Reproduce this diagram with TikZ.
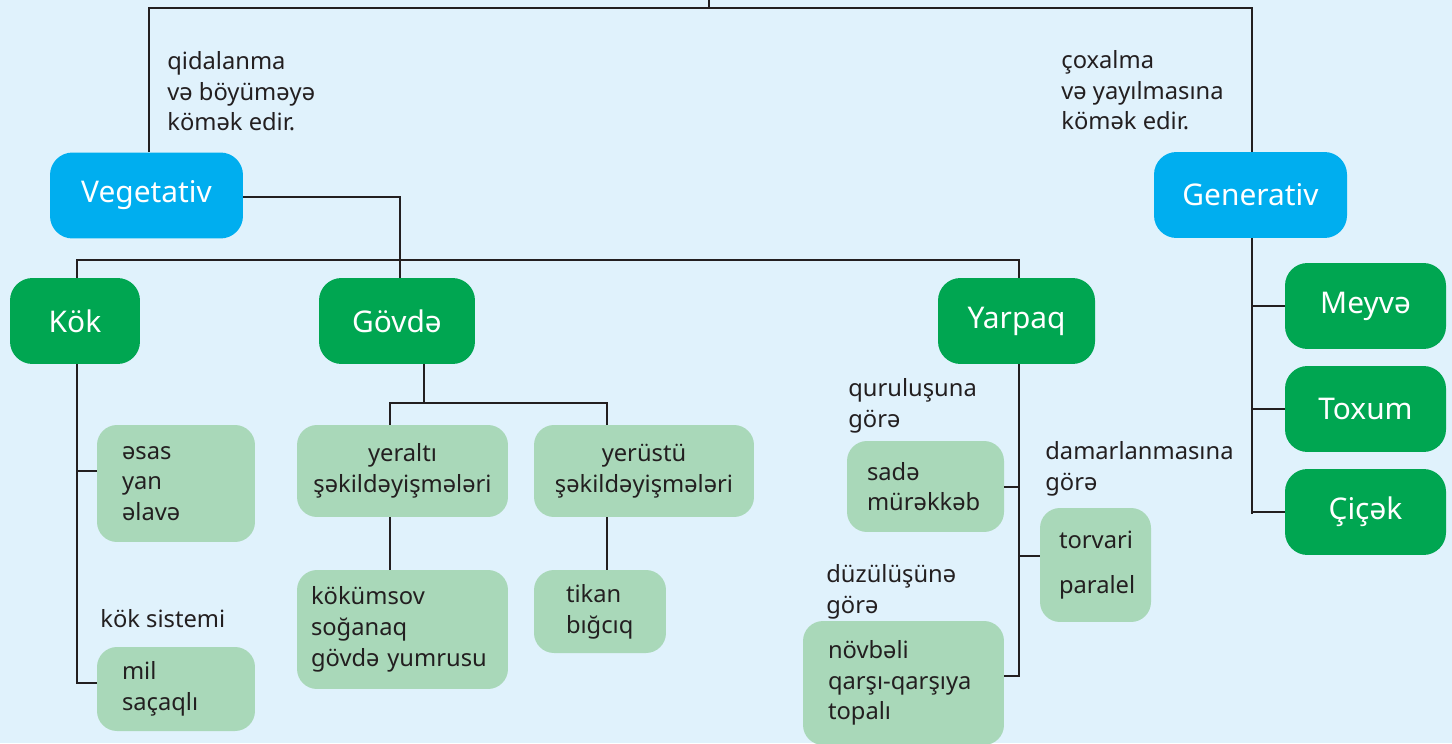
\documentclass[tikz,border=0pt]{standalone}
\usepackage{fontspec}
\setmainfont{Noto Sans}
\usepackage{tikz}
\usetikzlibrary{positioning,calc}
\usepackage{xcolor}

\definecolor{pagebg}{HTML}{E0F2FC}
\definecolor{vegblue}{HTML}{00AEEF}
\definecolor{partgreen}{HTML}{00A651}
\definecolor{notegreen}{HTML}{A9D8B9}
\definecolor{inkgray}{HTML}{231F20}

\newcommand{\notefont}{\fontsize{13.5pt}{17.5pt}\selectfont}
\newcommand{\boxfont}{\fontsize{17pt}{20pt}\selectfont}

\tikzset{
  mainbox/.style={fill=vegblue, text=white, rounded corners=0.45cm,
    minimum width=3.86cm, minimum height=1.72cm, font=\boxfont},
  partbox/.style={fill=partgreen, text=white, rounded corners=0.45cm,
    minimum height=1.72cm, font=\boxfont},
  notebox/.style={fill=notegreen, text=inkgray, rounded corners=0.4cm,
    font=\notefont},
  % anchored at the baseline of the last line
  note/.style={text=inkgray, align=left, inner sep=0pt, anchor=base west, font=\notefont},
  link/.style={draw=inkgray, line width=1.6pt},
  thinlink/.style={draw=inkgray, line width=1.2pt},
}

\begin{document}
\begin{tikzpicture}[x=0.02cm,y=-0.02cm]
\fill[pagebg] (0,0) rectangle (1452,743);
\useasboundingbox (0,0) rectangle (1452,743);

% top level
\node[mainbox] (veg) at (146.5,195.5) {Vegetativ};
\node[mainbox] (gen) at (1250.5,195) {Generativ};

\node[note] (vegnote) at (167,131) {qidalanma\\və böyüməyə\\kömək edir.};
\node[note] (gennote) at (1061,130) {çoxalma\\və yayılmasına\\kömək edir.};

% vegetative organs
\node[partbox, minimum width=2.6cm] (kok) at (75,321) {Kök};
\node[partbox, minimum width=3.12cm] (govde) at (397,321) {Gövdə};
\node[partbox, minimum width=3.14cm] (yarpaq) at (1016.5,321) {Yarpaq};

% generative organs
\node[partbox, minimum width=3.22cm] (meyve) at (1365.5,306) {Meyvə};
\node[partbox, minimum width=3.22cm] (toxum) at (1365.5,409) {Toxum};
\node[partbox, minimum width=3.22cm] (cicek) at (1365.5,512) {Çiçək};

% root
\node[notebox, minimum width=3.16cm, minimum height=2.34cm, inner xsep=0.5cm,
  text width=2.16cm, align=left] (esas) at (176,483.5) {əsas\\yan\\əlavə};
\node[note] (koksis) at (100,627) {kök sistemi};
\node[notebox, minimum width=3.16cm, minimum height=1.68cm, inner xsep=0.5cm,
  text width=2.16cm, align=left] (mil) at (176,689) {mil\\saçaqlı};

% stem
\node[notebox, minimum width=4.22cm, minimum height=1.84cm, text width=4cm,
  inner xsep=0.11cm, align=center] (yeralti) at (402.5,471) {yeraltı\\şəkildəyişmələri};
\node[notebox, minimum width=4.4cm, minimum height=1.84cm, text width=4.1cm,
  inner xsep=0.15cm, align=center] (yerustu) at (644,471) {yerüstü\\şəkildəyişmələri};
\node[notebox, minimum width=4.22cm, minimum height=2.38cm, inner xsep=0.28cm,
  text width=3.66cm, align=left] (kokumsov) at (402.5,629.5) {kökümsov\\soğanaq\\gövdə yumrusu};
\node[notebox, minimum width=2.64cm, minimum height=1.66cm, inner xsep=0.64cm,
  text width=1.36cm, align=left] (tikan) at (600,611.5) {tikan\\bığcıq};

% leaf
\node[note] (qurnote) at (848,427) {quruluşuna\\görə};
\node[notebox, minimum width=3.14cm, minimum height=1.82cm, inner xsep=0.4cm,
  text width=2.34cm, align=left] (sade) at (925.5,486.5) {sadə\\mürəkkəb};
\node[note] (damnote) at (1045,490) {damarlanmasına\\görə};
\node[notebox, minimum width=2.22cm, minimum height=2.28cm, inner xsep=0.38cm,
  text width=1.46cm, align=left] (torvari) at (1095.5,565) {torvari\\[0.3cm]paralel};
\node[note] (duznote) at (826,613) {düzülüşünə\\görə};
\node[notebox, minimum width=4.02cm, minimum height=2.48cm, inner xsep=0.5cm,
  text width=3.02cm, align=left] (novbeli) at (903.5,683) {növbəli\\qarşı-qarşıya\\topalı};

% junctions
\coordinate (topj) at (709,0);
\coordinate (tl) at (149,8);
\coordinate (tr) at (1252,8);
\coordinate (vj) at (400,197);
\coordinate (bl) at (77,260);
\coordinate (br) at (1019,260);
\coordinate (ka) at (77,471);
\coordinate (kb) at (77,683);
\coordinate (gj) at (424,403);
\coordinate (ga) at (390,403);
\coordinate (gb) at (607,403);
\coordinate (ya) at (1019,487);
\coordinate (yb) at (1019,556);
\coordinate (yc) at (1019,676);
\coordinate (gnj) at (1252,514);

% connectors
\draw[link] (topj) -- (topj |- tl);
\draw[link] (veg.north -| tl) -- (tl) -- (tr) -- (gen.north -| tr);
\draw[link] (veg.east |- vj) -- (vj) -- (vj |- govde.north);
\draw[link] (kok.north -| bl) -- (bl) -- (br) -- (yarpaq.north -| br);

\draw[link] (kok.south -| kb) -- (kb) -- (kb -| mil.west);
\draw[link] (ka) -- (ka -| esas.west);

\draw[link] (gj |- govde.south) -- (gj);
\draw[link] (ga |- yeralti.north) -- (ga) -- (gb) -- (gb |- yerustu.north);
\draw[link] (ga |- yeralti.south) -- (ga |- kokumsov.north);
\draw[link] (gb |- yerustu.south) -- (gb |- tikan.north);

\draw[link] (yc |- yarpaq.south) -- (yc) -- (yc -| novbeli.east);
\draw[link] (ya) -- (ya -| sade.east);
\draw[link] (yb) -- (yb -| torvari.west);

\draw[thinlink] (gnj |- gen.south) -- (gnj);
\draw[thinlink] (gnj |- meyve.west) -- (meyve.west);
\draw[thinlink] (gnj |- toxum.west) -- (toxum.west);
\draw[thinlink] (gnj |- cicek.west) -- (cicek.west);
\end{tikzpicture}
\end{document}
